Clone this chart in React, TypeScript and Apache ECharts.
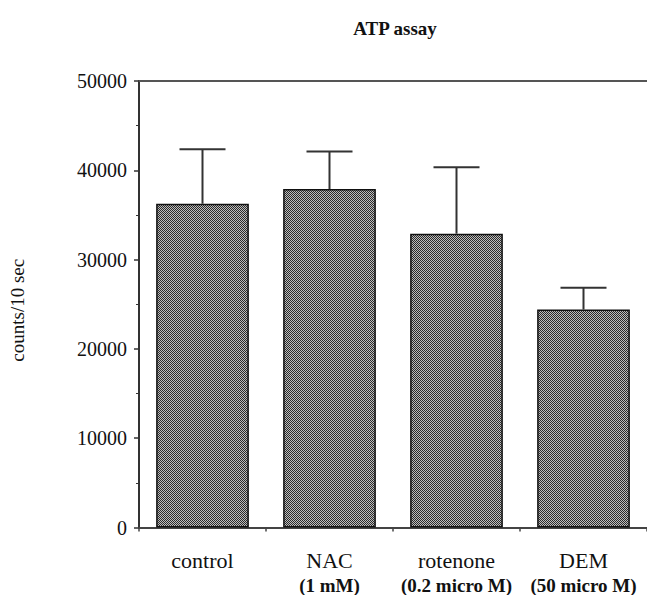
import React, { useEffect, useRef } from "react";
import * as echarts from "echarts";

const categories = ["control", "NAC", "rotenone", "DEM"];
const concentrations = ["", "(1 mM)", "(0.2 micro M)", "(50 micro M)"];
const meanCounts = [36250, 37900, 32900, 24400];
const upperError = [42350, 42100, 40350, 26850];
const yTicks = [0, 10000, 20000, 30000, 40000, 50000];

const SERIF = "'Liberation Serif', 'Times New Roman', serif";

// 2x2 checker used as the stippled bar fill
function stipple(): HTMLCanvasElement {
  const c = document.createElement("canvas");
  c.width = 2;
  c.height = 2;
  const ctx = c.getContext("2d")!;
  ctx.fillStyle = "#bdbdbd";
  ctx.fillRect(0, 0, 2, 2);
  ctx.fillStyle = "#2a2a2a";
  ctx.fillRect(0, 0, 1, 1);
  ctx.fillRect(1, 1, 1, 1);
  return c;
}

export default function App() {
  const ref = useRef<HTMLDivElement>(null);

  useEffect(() => {
    if (!ref.current) return;
    const chart = echarts.init(ref.current, undefined, { renderer: "svg" });
    const labels = categories.map((c, i) =>
      concentrations[i] ? `{a|${c}}\n{b|${concentrations[i]}}` : `{a|${c}}`
    );
    chart.setOption({
      animation: false,
      backgroundColor: "#ffffff",
      title: {
        text: "ATP assay",
        left: 390,
        top: 14,
        textAlign: "center",
        textStyle: { fontFamily: SERIF, fontSize: 19, fontWeight: "bold", color: "#111" },
      },
      grid: { left: 138.7, top: 81, width: 512, height: 457 },
      xAxis: [
        {
          type: "category",
          data: labels,
          boundaryGap: true,
          axisLine: { lineStyle: { color: "#444", width: 2 } },
          axisTick: { show: true, length: 4, lineStyle: { color: "#444", width: 1.5 } },
          axisLabel: {
            interval: 0,
            margin: 20,
            color: "#111",
            rich: {
              a: { fontFamily: SERIF, fontSize: 22, lineHeight: 26, color: "#111" },
              b: { fontFamily: SERIF, fontSize: 19, fontWeight: "bold", lineHeight: 24, color: "#111" },
            },
          },
        },
        {
          type: "category",
          position: "top",
          data: labels,
          axisLine: { show: true, lineStyle: { color: "#555", width: 2 } },
          axisTick: { show: false },
          axisLabel: { show: false },
        },
      ],
      yAxis: {
        type: "value",
        min: yTicks[0],
        max: yTicks[yTicks.length - 1],
        interval: 10000,
        name: "counts/10 sec",
        nameLocation: "middle",
        nameGap: 112,
        nameRotate: 90,
        nameTextStyle: { fontFamily: SERIF, fontSize: 19, color: "#111", padding: [0, 0, 0, -12] },
        axisLine: { show: true, lineStyle: { color: "#333", width: 2 } },
        axisTick: { show: true, length: 5, lineStyle: { color: "#333", width: 1.5 } },
        minorTick: { show: true, splitNumber: 2, length: 3, lineStyle: { color: "#333", width: 1 } },
        splitLine: { show: false },
        axisLabel: {
          margin: 12,
          fontFamily: SERIF,
          fontSize: 20,
          color: "#111",
          formatter: (v: number) => String(v),
        },
      },
      series: [
        {
          type: "bar",
          data: meanCounts,
          barWidth: "73%",
          itemStyle: {
            color: { image: stipple(), repeat: "repeat" },
            borderColor: "#111",
            borderWidth: 1.5,
          },
        },
        {
          type: "custom",
          data: meanCounts.map((m, i) => [i, m, upperError[i]]),
          z: 3,
          renderItem: (params: any, api: any) => {
            const i = api.value(0);
            const base = api.coord([i, api.value(1)]);
            const top = api.coord([i, api.value(2)]);
            const half = 23;
            return {
              type: "group",
              children: [
                {
                  type: "line",
                  shape: { x1: base[0], y1: base[1], x2: top[0], y2: top[1] },
                  style: { stroke: "#333", lineWidth: 2 },
                },
                {
                  type: "line",
                  shape: { x1: top[0] - half, y1: top[1], x2: top[0] + half, y2: top[1] },
                  style: { stroke: "#333", lineWidth: 2 },
                },
              ],
            };
          },
        },
      ],
    });
    return () => chart.dispose();
  }, []);

  return (
    <div
      ref={ref}
      style={{ position: "fixed", left: 0, top: 0, width: 647, height: 595, background: "#fff" }}
    />
  );
}
